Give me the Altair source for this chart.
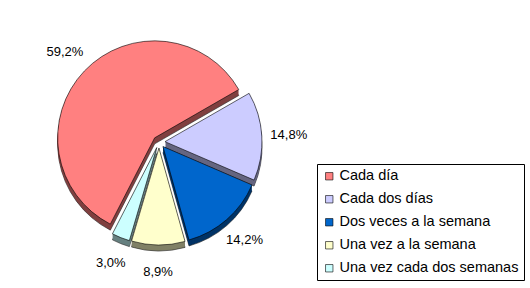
import math
import altair as alt
import pandas as pd

categories = ["Cada día", "Cada dos días", "Dos veces a la semana",
              "Una vez a la semana", "Una vez cada dos semanas"]
values = [59.2, 14.8, 14.2, 8.9, 3.0]
labels = ["59,2%", "14,8%", "14,2%", "8,9%", "3,0%"]
colors = ["#FF8080", "#CCCCFF", "#0066CC", "#FFFFCC", "#CCFFFF"]
side_colors = ["#804040", "#666680", "#003366", "#808066", "#668080"]

df = pd.DataFrame({
    "cat": categories,
    "value": values,
    "label": labels,
    "order": list(range(len(values))),
    "side": side_colors,
})

START = math.radians(207.2)
CX, CY = 159, 142
EXPLODE = 6
R = 97
DEPTH = 6

theta_scale = alt.Scale(range=[START, START + 2 * math.pi])

base = alt.Chart(df).transform_window(
    cum="sum(value)", sort=[{"field": "order"}]
).transform_joinaggregate(
    total="sum(value)"
).transform_calculate(
    mid=f"{START} + (datum.cum - datum.value/2)/datum.total*2*PI",
).transform_calculate(
    cx=f"{CX} + {EXPLODE}*sin(datum.mid)",
    cy=f"{CY} - {EXPLODE}*cos(datum.mid)",
)

enc = dict(
    theta=alt.Theta("value:Q", stack=True, scale=theta_scale),
    order=alt.Order("order:Q"),
    x=alt.X("cx:Q", scale=None),
    y=alt.Y("cy:Q", scale=None),
)

side_layers = []
for d in range(DEPTH, 0, -1):
    side_layers.append(
        base.mark_arc(outerRadius=R, yOffset=d,
                      stroke="#202020" if d == DEPTH else None,
                      strokeWidth=0.6 if d == DEPTH else 0).encode(
            color=alt.Color("side:N", scale=None), **enc)
    )

top = base.mark_arc(outerRadius=R, stroke="#000000", strokeWidth=0.6).encode(
    color=alt.Color("cat:N", sort=categories,
                    scale=alt.Scale(domain=categories, range=colors),
                    legend=alt.Legend(title=None)),
    **enc,
)

text = alt.Chart(df).mark_text(
    radius=130, fontSize=13, font="Liberation Sans", color="black",
    align="center", baseline="middle"
).encode(
    theta=alt.Theta("value:Q", stack=True, scale=theta_scale),
    order=alt.Order("order:Q"),
    text="label:N",
    x=alt.value(CX), y=alt.value(CY),
)

shadow = alt.Chart(df).mark_rect(color="black").encode(
    x=alt.value(320), x2=alt.value(522), y=alt.value(167), y2=alt.value(278)
)

chart = alt.layer(shadow, *side_layers, top, text).properties(
    width=530, height=288, padding=0,
    autosize=alt.AutoSizeParams(type="none"),
    background="white",
).configure_view(stroke=None).configure_legend(
    orient="none", legendX=317, legendY=164,
    strokeColor="black", fillColor="white", padding=5,
    symbolType="square", symbolSize=55, symbolStrokeColor="black",
    symbolStrokeWidth=0.6, labelFontSize=14.5, labelFont="Liberation Sans",
    labelColor="black", rowPadding=8, labelOffset=3, labelLimit=300,
    cornerRadius=0,
)

chart.save("out.html", embed_options={"renderer": "svg", "actions": False})
